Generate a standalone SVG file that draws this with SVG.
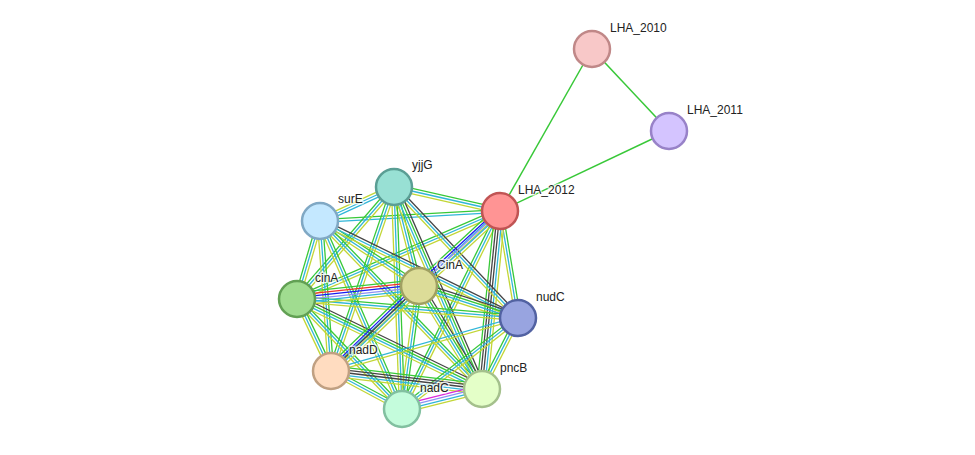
<svg xmlns="http://www.w3.org/2000/svg" xmlns:xlink="http://www.w3.org/1999/xlink" width="975" height="455" viewBox="0 0 975 455">
<style>
.e line{stroke-width:1.3;fill:none}
.g{stroke:#38c838}
.c{stroke:#30b6d8}
.y{stroke:#c2d636}
.k{stroke:#454545}
.b{stroke:#1a1af0}
.h{stroke:#9090f4}
.r{stroke:#f03030}
.m{stroke:#dc28dc}
.n circle{stroke-width:2.5}
.n text{font-family:"Liberation Sans",Arial,sans-serif;font-size:12px;fill:#222;stroke:#fff;stroke-width:3;stroke-opacity:0.7;paint-order:stroke;stroke-linejoin:round}
</style>
<defs>
<g id="gcy" class="e"><line class="g" x1="0" y1="-2.6" x2="1" y2="-2.6"/><line class="c" x1="0" y1="0" x2="1" y2="0"/><line class="y" x1="0" y1="2.6" x2="1" y2="2.6"/></g>
<g id="gc" class="e"><line class="g" x1="0" y1="-1.3" x2="1" y2="-1.3"/><line class="c" x1="0" y1="1.3" x2="1" y2="1.3"/></g>
<g id="cy" class="e"><line class="c" x1="0" y1="-1.3" x2="1" y2="-1.3"/><line class="y" x1="0" y1="1.3" x2="1" y2="1.3"/></g>
<g id="ycc" class="e"><line class="y" x1="0" y1="-2.6" x2="1" y2="-2.6"/><line class="c" x1="0" y1="0" x2="1" y2="0"/><line class="c" x1="0" y1="2.6" x2="1" y2="2.6"/></g>
<g id="kcy" class="e"><line class="k" x1="0" y1="-2.6" x2="1" y2="-2.6"/><line class="c" x1="0" y1="0" x2="1" y2="0"/><line class="y" x1="0" y1="2.6" x2="1" y2="2.6"/></g>
<g id="kgcy" class="e"><line class="k" x1="0" y1="-3.9" x2="1" y2="-3.9"/><line class="g" x1="0" y1="-1.3" x2="1" y2="-1.3"/><line class="c" x1="0" y1="1.3" x2="1" y2="1.3"/><line class="y" x1="0" y1="3.9" x2="1" y2="3.9"/></g>
<g id="mhcy" class="e"><line class="m" x1="0" y1="-3.9" x2="1" y2="-3.9"/><line class="h" x1="0" y1="-1.3" x2="1" y2="-1.3"/><line class="c" x1="0" y1="1.3" x2="1" y2="1.3"/><line class="y" x1="0" y1="3.9" x2="1" y2="3.9"/></g>
<g id="gbhcy" class="e"><line class="g" x1="0" y1="-5.2" x2="1" y2="-5.2"/><line class="b" x1="0" y1="-2.6" x2="1" y2="-2.6"/><line class="h" x1="0" y1="0" x2="1" y2="0"/><line class="c" x1="0" y1="2.6" x2="1" y2="2.6"/><line class="y" x1="0" y1="5.2" x2="1" y2="5.2"/></g>
<g id="gbkcy" class="e"><line class="g" x1="0" y1="-5.2" x2="1" y2="-5.2"/><line class="b" x1="0" y1="-2.6" x2="1" y2="-2.6"/><line class="k" x1="0" y1="0" x2="1" y2="0"/><line class="c" x1="0" y1="2.6" x2="1" y2="2.6"/><line class="y" x1="0" y1="5.2" x2="1" y2="5.2"/></g>
<g id="gkkcy" class="e"><line class="g" x1="0" y1="-5.2" x2="1" y2="-5.2"/><line class="k" x1="0" y1="-2.6" x2="1" y2="-2.6"/><line class="k" x1="0" y1="0" x2="1" y2="0"/><line class="c" x1="0" y1="2.6" x2="1" y2="2.6"/><line class="y" x1="0" y1="5.2" x2="1" y2="5.2"/></g>
<g id="grbhcy" class="e"><line class="g" x1="0" y1="-6.5" x2="1" y2="-6.5"/><line class="r" x1="0" y1="-3.9" x2="1" y2="-3.9"/><line class="b" x1="0" y1="-1.3" x2="1" y2="-1.3"/><line class="h" x1="0" y1="1.3" x2="1" y2="1.3"/><line class="c" x1="0" y1="3.9" x2="1" y2="3.9"/><line class="y" x1="0" y1="6.5" x2="1" y2="6.5"/></g>
</defs>
<rect width="975" height="455" fill="#fff"/>
<g id="edges">
<line class="g" x1="592" y1="49" x2="669" y2="131" stroke-width="1.5"/>
<line class="g" x1="592" y1="49" x2="500" y2="211" stroke-width="1.5"/>
<line class="g" x1="669" y1="131" x2="500" y2="211" stroke-width="1.5"/>
<use href="#gcy" transform="matrix(106,24,-0.2208,0.9753,394,187)"/>
<use href="#gc" transform="matrix(180,-10,0.0555,0.9985,320,221)"/>
<use href="#gcy" transform="matrix(203,-88,0.3977,0.9175,297,299)"/>
<use href="#gcy" transform="matrix(18,107,-0.9862,0.1659,500,211)"/>
<use href="#cy" transform="matrix(169,-160,0.6875,0.7262,331,371)"/>
<use href="#gcy" transform="matrix(98,-198,0.8962,0.4436,402,409)"/>
<use href="#gkkcy" transform="matrix(18,-178,0.9949,0.1006,482,389)"/>
<use href="#ycc" transform="matrix(74,-34,0.4175,0.9087,320,221)"/>
<use href="#gcy" transform="matrix(25,99,-0.9695,0.2448,394,187)"/>
<use href="#gcy" transform="matrix(97,-112,0.7559,0.6547,297,299)"/>
<use href="#kcy" transform="matrix(124,131,-0.7263,0.6874,394,187)"/>
<use href="#gcy" transform="matrix(63,-184,0.9461,0.3239,331,371)"/>
<use href="#gcy" transform="matrix(8,222,-0.9994,0.0360,394,187)"/>
<use href="#kgcy" transform="matrix(88,202,-0.9168,0.3994,394,187)"/>
<use href="#gcy" transform="matrix(99,65,-0.5488,0.8359,320,221)"/>
<use href="#gcy" transform="matrix(23,-78,0.9592,0.2828,297,299)"/>
<use href="#kcy" transform="matrix(198,97,-0.4399,0.8980,320,221)"/>
<use href="#gcy" transform="matrix(11,150,-0.9973,0.0731,320,221)"/>
<use href="#gcy" transform="matrix(82,188,-0.9166,0.3998,320,221)"/>
<use href="#gcy" transform="matrix(162,168,-0.7199,0.6941,320,221)"/>
<use href="#kgcy" transform="matrix(99,32,-0.3076,0.9515,419,286)"/>
<use href="#gcy" transform="matrix(-17,123,-0.9906,-0.1369,419,286)"/>
<use href="#kgcy" transform="matrix(63,103,-0.8531,0.5218,419,286)"/>
<use href="#gcy" transform="matrix(221,19,-0.0857,0.9963,297,299)"/>
<use href="#gcy" transform="matrix(34,72,-0.9043,0.4270,297,299)"/>
<use href="#gcy" transform="matrix(105,110,-0.7234,0.6905,297,299)"/>
<use href="#kgcy" transform="matrix(185,90,-0.4375,0.8992,297,299)"/>
<use href="#cy" transform="matrix(187,-53,0.2727,0.9621,331,371)"/>
<use href="#gcy" transform="matrix(116,-91,0.6172,0.7868,402,409)"/>
<use href="#gcy" transform="matrix(36,-71,0.8919,0.4522,482,389)"/>
<use href="#gcy" transform="matrix(71,38,-0.4719,0.8817,331,371)"/>
<use href="#gkkcy" transform="matrix(151,18,-0.1184,0.9930,331,371)"/>
<use href="#mhcy" transform="matrix(80,-20,0.2425,0.9701,402,409)"/>
<use href="#grbhcy" transform="matrix(122,-13,0.1060,0.9944,297,299)"/>
<use href="#gbkcy" transform="matrix(88,-85,0.6947,0.7193,331,371)"/>
<use href="#gbhcy" transform="matrix(81,-75,0.6794,0.7338,419,286)"/>
</g>
<g id="LHA_2010" class="n"><circle cx="592" cy="49" r="18" fill="#f8c8c8" stroke="#c08888"/><text x="610" y="32">LHA_2010</text></g>
<g id="LHA_2011" class="n"><circle cx="669" cy="131" r="18" fill="#d4c4ff" stroke="#9882c8"/><text x="687" y="114">LHA_2011</text></g>
<g id="LHA_2012" class="n"><circle cx="500" cy="211" r="18" fill="#ff9494" stroke="#c05454"/><text x="518" y="194">LHA_2012</text></g>
<g id="yjjG" class="n"><circle cx="394" cy="187" r="18" fill="#98e0d4" stroke="#5a9e94"/><text x="412" y="169">yjjG</text></g>
<g id="surE" class="n"><circle cx="320" cy="221" r="18" fill="#c4e8ff" stroke="#80a8c4"/><text x="338" y="203">surE</text></g>
<g id="CinA" class="n"><circle cx="419" cy="286" r="18" fill="#dcdc98" stroke="#a0a062"/><text x="437" y="269">CinA</text></g>
<g id="cinA" class="n"><circle cx="297" cy="299" r="18" fill="#a0dc90" stroke="#62a054"/><text x="315" y="282">cinA</text></g>
<g id="nudC" class="n"><circle cx="518" cy="318" r="18" fill="#98a4e0" stroke="#5262a2"/><text x="536" y="301">nudC</text></g>
<g id="nadD" class="n"><circle cx="331" cy="371" r="18" fill="#ffdcc0" stroke="#c0a082"/><text x="349" y="354">nadD</text></g>
<g id="nadC" class="n"><circle cx="402" cy="409" r="18" fill="#c4fcdc" stroke="#82c0a0"/><text x="420" y="392">nadC</text></g>
<g id="pncB" class="n"><circle cx="482" cy="389" r="18" fill="#e4ffc8" stroke="#a4c08c"/><text x="500" y="372">pncB</text></g>
</svg>
